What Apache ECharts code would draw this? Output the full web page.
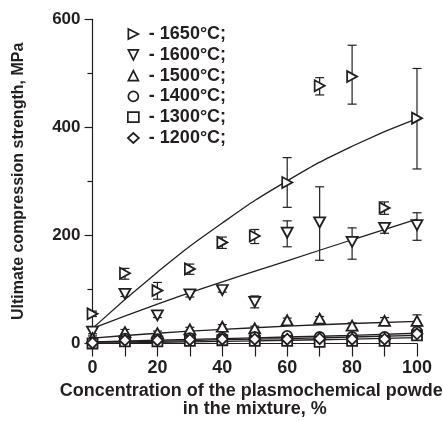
<!DOCTYPE html>
<html>
<head>
<meta charset="utf-8">
<script src="https://cdn.jsdelivr.net/npm/echarts@6/dist/echarts.min.js"></script>
<style>
  html, body { margin: 0; padding: 0; background: #fff; }
  #chart { width: 443px; height: 421px; }
</style>
</head>
<body>
<div id="chart"></div>
<script>
// concentration, %
const conc = [0, 10, 20, 30, 40, 50, 60, 70, 80, 90, 100];

// measured strength, MPa
const s1650 = [55, 130, 98, 138, 187, 199, 298, 477, 494, 251, 417];
const s1600 = [22, 92, 52, 91, 99, 77, 205, 224, 188, 214, 219];
const s1500 = [10, 21, 19, 26, 31, 28, 43, 46, 33, 42, 42];
const s1400 = [2, 9, 8, 10, 11, 12, 14, 12, 12, 12, 22];
const s1300 = [0, 4, 4, 5, 6, 5, 5, 3, 5, 5, 15];
const s1200 = [1, 6, 6, 7, 8, 8, 8, 9, 8, 8, 18];

// error bar ends (low / high)
const lo1650 = [50, 119, 82, 128, 176, 185, 252, 460, 443, 239, 323];
const hi1650 = [60, 139, 113, 147, 197, 211, 344, 492, 552, 262, 509];
const lo1600 = [18, 87, 48, 86, 95, 66, 179, 154, 156, 204, 191];
const hi1600 = [26, 96, 56, 96, 104, 88, 227, 290, 214, 222, 242];
const lo1500 = [6, 16, 15, 22, 27, 24, 39, 42, 28, 36, 33];
const hi1500 = [14, 26, 23, 30, 35, 32, 47, 50, 38, 48, 53];

// fitted curves
const fitX = [0, 20, 40, 60, 80, 100];
const fit1650 = [28, 132, 223, 301, 365, 416];
const fit1600 = [28, 73, 114, 153, 192, 230];
const fit1500 = [10, 19, 26, 32, 37, 41];
const fit1400 = [3, 6, 9, 12, 15, 19];
const fit1300 = [0, 2, 4, 6, 8, 11];
const fit1200 = [2, 4, 7, 9, 12, 15];

const names = ['1650°C', '1600°C', '1500°C', '1400°C', '1300°C', '1200°C'];

const ink = '#231f20';
const font = 'Liberation Sans';
const symRight = 'path://M0,0L10,5L0,10Z';
const symDown = 'path://M0,0L10,0L5,10Z';
const symUp = 'path://M5,0L10,10L0,10Z';
const symbols = [symRight, symDown, symUp, 'circle', 'rect', 'diamond'];
const sizes = [[10, 11], [11, 10], [11, 10], 10, 10, 11];
const values = [s1650, s1600, s1500, s1400, s1300, s1200];
const fits = [fit1650, fit1600, fit1500, fit1400, fit1300, fit1200];

const pair = (xs, ys) => xs.map((x, i) => [x, ys[i]]);

const series = [];

fits.forEach((f) => {
    series.push({
        type: 'line',
        data: pair(fitX, f),
        smooth: true,
        showSymbol: false,
        silent: true,
        lineStyle: { color: ink, width: 1.3 },
        z: 2
    });
});

[[lo1650, hi1650], [lo1600, hi1600], [lo1500, hi1500]].forEach((e) => {
    series.push({
        type: 'custom',
        data: conc.map((x, i) => [x, e[0][i], e[1][i]]),
        renderItem: function (params, api) {
            const a = api.coord([api.value(0), api.value(1)]);
            const b = api.coord([api.value(0), api.value(2)]);
            const w = 4.5;
            const st = { stroke: ink, lineWidth: 1.2 };
            return {
                type: 'group',
                children: [
                    { type: 'line', shape: { x1: a[0], y1: a[1], x2: b[0], y2: b[1] }, style: st },
                    { type: 'line', shape: { x1: a[0] - w, y1: a[1], x2: a[0] + w, y2: a[1] }, style: st },
                    { type: 'line', shape: { x1: b[0] - w, y1: b[1], x2: b[0] + w, y2: b[1] }, style: st }
                ]
            };
        },
        z: 3
    });
});

values.forEach((v, i) => {
    series.push({
        name: names[i],
        type: 'line',
        data: pair(conc, v),
        symbol: symbols[i],
        symbolSize: sizes[i],
        lineStyle: { width: 0, opacity: 0 },
        itemStyle: { color: '#fff', borderColor: ink, borderWidth: 1.8 },
        z: 4
    });
});

const chart = echarts.init(document.getElementById('chart'));
chart.setOption({
    animation: false,
    backgroundColor: '#fff',
    grid: {
        left: 92.5, right: 26, top: 19.3, bottom: 77.5,
        containLabel: false, outerBoundsMode: 'none'
    },
    legend: {
        orient: 'vertical',
        left: 122,
        top: 20,
        itemWidth: 11,
        itemHeight: 10,
        itemGap: 2.8,
        selectedMode: false,
        data: names.map((n, i) => ({ name: n, icon: symbols[i] })),
        itemStyle: { color: '#fff', borderColor: ink, borderWidth: 1.7 },
        formatter: (n) => '- ' + n + ';',
        textStyle: {
            fontFamily: font, fontWeight: 'bold', fontSize: 18,
            color: ink, lineHeight: 18, padding: [0, 0, 0, 5]
        }
    },
    xAxis: {
        type: 'value',
        min: 0,
        max: 100,
        interval: 10,
        name: 'Concentration of the plasmochemical powder\nin the mixture, %',
        nameLocation: 'middle',
        nameGap: 39,
        nameTextStyle: {
            fontFamily: font, fontWeight: 'bold', fontSize: 18,
            color: ink, lineHeight: 18
        },
        splitLine: { show: false },
        axisLine: { lineStyle: { color: ink, width: 1.2 } },
        axisTick: { length: 13, lineStyle: { color: ink, width: 1.2 } },
        axisLabel: {
            fontFamily: font, fontWeight: 'bold', fontSize: 18, color: ink, margin: 16,
            formatter: (v) => (v % 20 === 0 ? String(v) : '')
        }
    },
    yAxis: {
        type: 'value',
        min: 0,
        max: 600,
        interval: 200,
        name: 'Ultimate compression strength, MPa',
        nameLocation: 'middle',
        nameGap: 66,
        nameTextStyle: {
            fontFamily: font, fontWeight: 'bold', fontSize: 16, color: ink
        },
        splitLine: { show: false },
        axisLine: { show: true, lineStyle: { color: ink, width: 1.2 } },
        axisTick: { length: 8, lineStyle: { color: ink, width: 1.2 } },
        minorTick: { show: true, splitNumber: 2, length: 5, lineStyle: { color: ink, width: 1.2 } },
        axisLabel: {
            fontFamily: font, fontWeight: 'bold', fontSize: 17, color: ink, margin: 12
        }
    },
    series: series
});
</script>
</body>
</html>
